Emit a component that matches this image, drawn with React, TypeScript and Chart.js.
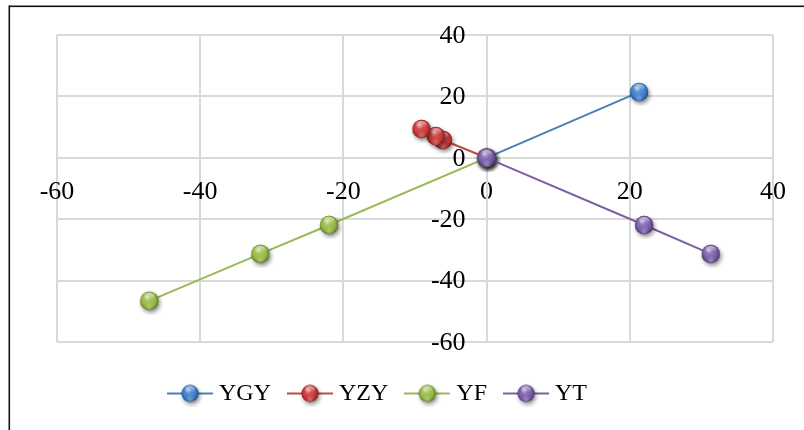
import { useEffect, useRef } from 'react';
import { Chart, registerables } from 'chart.js';

Chart.register(...registerables);

const SERIES_NAMES = ['YGY', 'YZY', 'YF', 'YT'];
const YGY_X = [0, 21.3];
const YGY_Y = [0, 21.4];
const YZY_X = [0, -6.1, -7.1, -9.1];
const YZY_Y = [0, 5.8, 7.1, 9.4];
const YF_X = [0, -22.0, -31.6, -47.1];
const YF_Y = [0, -21.9, -31.3, -46.6];
const YT_X = [0, 22.0, 31.3];
const YT_Y = [0, -21.9, -31.3];
const X_TICKS = [-60, -40, -20, 0, 20, 40];
const Y_TICKS = [-60, -40, -20, 0, 20, 40];

const LINE_COLORS = ['#4a7ebb', '#be4b48', '#98b954', '#7d60a0'];
const BALL_COLORS: [number, number, number][] = [
  [60, 125, 205],
  [205, 52, 52],
  [150, 188, 64],
  [122, 90, 172],
];

const FONT = "'Liberation Serif', 'Times New Roman', serif";
const GRID = '#d9d9d9';
const TICK_SIZE = 26;

function mix(c: [number, number, number], t: [number, number, number], k: number) {
  const r = Math.round(c[0] + (t[0] - c[0]) * k);
  const g = Math.round(c[1] + (t[1] - c[1]) * k);
  const b = Math.round(c[2] + (t[2] - c[2]) * k);
  return `rgb(${r},${g},${b})`;
}

function makeBall(color: [number, number, number], r: number, w: number, h: number, line?: string) {
  const c = document.createElement('canvas');
  c.width = w;
  c.height = h;
  const ctx = c.getContext('2d')!;
  const cx = w / 2;
  const cy = h / 2;
  if (line) {
    ctx.strokeStyle = line;
    ctx.lineWidth = 2;
    ctx.beginPath();
    ctx.moveTo(0, cy);
    ctx.lineTo(w, cy);
    ctx.stroke();
  }
  const W: [number, number, number] = [255, 255, 255];
  const K: [number, number, number] = [0, 0, 0];
  ctx.save();
  ctx.shadowColor = 'rgba(0,0,0,0.45)';
  ctx.shadowBlur = 4;
  ctx.shadowOffsetX = 1.5;
  ctx.shadowOffsetY = 2.5;
  ctx.fillStyle = mix(color, K, 0.3);
  ctx.beginPath();
  ctx.arc(cx, cy, r, 0, Math.PI * 2);
  ctx.fill();
  ctx.restore();
  const g = ctx.createRadialGradient(cx - r * 0.25, cy - r * 0.45, r * 0.05, cx, cy, r * 1.05);
  g.addColorStop(0, mix(color, W, 0.6));
  g.addColorStop(0.3, mix(color, W, 0.15));
  g.addColorStop(0.72, mix(color, K, 0.02));
  g.addColorStop(1, mix(color, K, 0.45));
  ctx.fillStyle = g;
  ctx.beginPath();
  ctx.arc(cx, cy, r, 0, Math.PI * 2);
  ctx.fill();
  const g2 = ctx.createRadialGradient(cx, cy + r * 0.75, 0, cx, cy + r * 0.75, r * 0.55);
  g2.addColorStop(0, 'rgba(255,255,255,0.3)');
  g2.addColorStop(1, 'rgba(255,255,255,0)');
  ctx.fillStyle = g2;
  ctx.beginPath();
  ctx.arc(cx, cy, r, 0, Math.PI * 2);
  ctx.fill();
  const g3 = ctx.createLinearGradient(0, cy - r * 0.9, 0, cy - r * 0.2);
  g3.addColorStop(0, 'rgba(255,255,255,0.6)');
  g3.addColorStop(1, 'rgba(255,255,255,0)');
  ctx.fillStyle = g3;
  ctx.beginPath();
  ctx.ellipse(cx, cy - r * 0.5, r * 0.6, r * 0.38, 0, 0, Math.PI * 2);
  ctx.fill();
  return c;
}

function pts(xs: number[], ys: number[]) {
  return xs.map((x, i) => ({ x, y: ys[i] }));
}

export default function App() {
  const ref = useRef<HTMLCanvasElement | null>(null);

  useEffect(() => {
    if (!ref.current) return;
    const balls = BALL_COLORS.map((c) => makeBall(c, 9.2, 28, 28));
    const legendImgs = BALL_COLORS.map((c, i) => makeBall(c, 8.5, 46, 26, LINE_COLORS[i]));
    const seriesData = [pts(YGY_X, YGY_Y), pts(YZY_X, YZY_Y), pts(YF_X, YF_Y), pts(YT_X, YT_Y)];

    const tickFont = { family: FONT, size: TICK_SIZE };

    const framePlugin = {
      id: 'frame',
      beforeDraw(chart: any) {
        const ctx = chart.ctx;
        ctx.save();
        ctx.fillStyle = '#111';
        ctx.fillRect(9, 5.5, 800, 1.6);
        ctx.fillRect(8.5, 5.5, 1.6, 430);
        ctx.restore();
      },
    };

    // y-axis tick labels placed to the left of the axis that crosses at x = 0
    const yLabelPlugin = {
      id: 'yLabels',
      beforeDatasetsDraw(chart: any) {
        const ctx = chart.ctx;
        const xs = chart.scales.x;
        const ys = chart.scales.y;
        const x0 = xs.getPixelForValue(0) - 21;
        ctx.save();
        ctx.font = `${TICK_SIZE}px ${FONT}`;
        ctx.fillStyle = '#000';
        ctx.textAlign = 'right';
        ctx.textBaseline = 'middle';
        ys.ticks.forEach((t: any) => {
          ctx.fillText(String(t.value), x0, ys.getPixelForValue(t.value) + 1);
        });
        ctx.restore();
      },
    };

    const chart = new Chart(ref.current, {
      type: 'scatter',
      data: {
        datasets: SERIES_NAMES.map((name, i) => ({
          label: name,
          data: seriesData[i],
          showLine: true,
          borderColor: LINE_COLORS[i],
          backgroundColor: LINE_COLORS[i],
          borderWidth: 2,
          pointStyle: balls[i],
          pointRadius: 9,
          pointHoverRadius: 9,
          order: 4 - i,
          xAxisID: 'x',
          yAxisID: 'y',
        })),
      },
      options: {
        animation: false,
        responsive: false,
        devicePixelRatio: 1,
        layout: { padding: { left: -13, right: 31, top: 35, bottom: 14.5 } },
        scales: {
          x: {
            type: 'linear',
            min: -60,
            max: 40,
            position: { y: 0 } as any,
            afterBuildTicks: (s: any) => {
              s.ticks = X_TICKS.map((v) => ({ value: v }));
            },
            afterFit: (s: any) => {
              s.height = 0;
              s.paddingLeft = 0;
              s.paddingRight = 0;
              s.paddingTop = 0;
              s.paddingBottom = 0;
            },
            ticks: { font: tickFont, color: '#000', padding: 19, maxRotation: 0, autoSkip: false },
            grid: { color: GRID, lineWidth: 2, drawTicks: false },
            border: { color: GRID, width: 2 },
          },
          y: {
            type: 'linear',
            min: -60,
            max: 40,
            position: { x: 0 } as any,
            afterBuildTicks: (s: any) => {
              s.ticks = Y_TICKS.map((v) => ({ value: v }));
            },
            afterFit: (s: any) => {
              s.width = 0;
              s.paddingLeft = 0;
              s.paddingRight = 0;
              s.paddingTop = 0;
              s.paddingBottom = 0;
            },
            ticks: { display: false, font: tickFont, color: '#000', autoSkip: false },
            grid: { color: GRID, lineWidth: 2, drawTicks: false },
            border: { color: GRID, width: 2 },
          },
          yl: {
            type: 'linear',
            position: 'left',
            display: true,
            grid: { display: false },
            border: { display: false },
            ticks: { display: false },
            afterFit: (s: any) => {
              s.width = 70;
            },
          },
        },
        plugins: {
          tooltip: { enabled: false },
          legend: {
            position: 'bottom',
            title: { display: true, text: '', padding: { top: 7.5, bottom: 0 }, font: { size: 10, lineHeight: 1 } },
            labels: {
              usePointStyle: true,
              pointStyleWidth: 34,
              padding: 22,
              color: '#000',
              font: { family: FONT, size: 24 },
              generateLabels: () =>
                SERIES_NAMES.map((name, i) => ({
                  text: name,
                  pointStyle: legendImgs[i] as any,
                  fillStyle: LINE_COLORS[i],
                  strokeStyle: LINE_COLORS[i],
                  lineWidth: 0,
                  hidden: false,
                  datasetIndex: i,
                  fontColor: '#000',
                })),
            },
          },
        },
      },
      plugins: [framePlugin, yLabelPlugin],
    });
    return () => chart.destroy();
  }, []);

  return (
    <div style={{ position: 'fixed', left: 0, top: 0, width: 804, height: 430, background: '#fff' }}>
      <canvas ref={ref} width={804} height={430} />
    </div>
  );
}
